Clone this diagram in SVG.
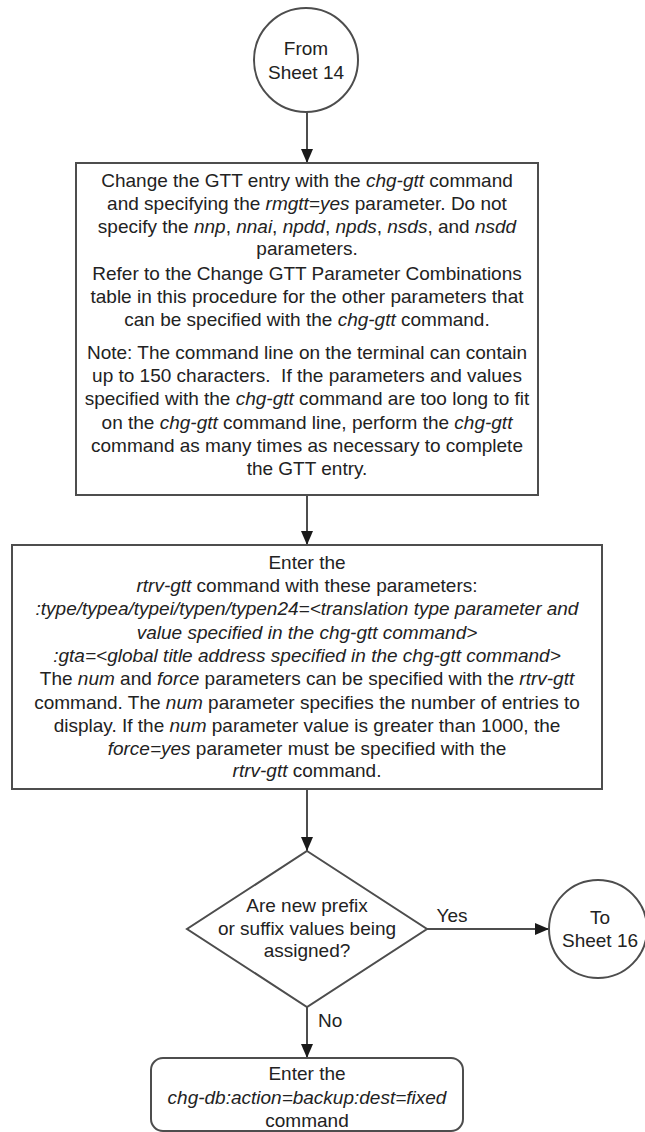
<svg xmlns="http://www.w3.org/2000/svg" width="645" height="1132" viewBox="0 0 645 1132">
<defs>
<style>
.shape{fill:#fff;stroke:#4d4d4d;stroke-width:2}
.conn{fill:none;stroke:#4d4d4d;stroke-width:2}
text{font-family:"Liberation Sans",Arial,sans-serif;font-size:19px;fill:#222;text-anchor:middle}
.i{font-style:italic}
</style>
<marker id="arr" markerWidth="14" markerHeight="12" refX="14" refY="6" orient="auto" markerUnits="userSpaceOnUse">
<path d="M0,0 L14,6 L0,12 Z" fill="#1a1a1a"/>
</marker>
</defs>
<rect width="645" height="1132" fill="#fff"/>

<g id="connectors">
<line class="conn" x1="307" y1="112" x2="307" y2="163" marker-end="url(#arr)"/>
<line class="conn" x1="307" y1="495" x2="307" y2="545" marker-end="url(#arr)"/>
<line class="conn" x1="307" y1="789" x2="307" y2="851" marker-end="url(#arr)"/>
<line class="conn" x1="427" y1="929" x2="549" y2="929" marker-end="url(#arr)"/>
<line class="conn" x1="307" y1="1007" x2="307" y2="1058" marker-end="url(#arr)"/>
<text x="452" y="922">Yes</text>
<text x="318" y="1027" style="text-anchor:start">No</text>
</g>

<g id="from-sheet-14">
<circle class="shape" cx="306" cy="60" r="52"/>
<text x="306" y="55">From</text>
<text x="306" y="79">Sheet 14</text>
</g>

<g id="change-gtt">
<rect class="shape" x="76" y="163" width="462" height="332"/>
<text x="307" y="187">Change the GTT entry with the <tspan class="i">chg-gtt</tspan> command</text>
<text x="307" y="210">and specifying the <tspan class="i">rmgtt=yes</tspan> parameter. Do not</text>
<text x="307" y="233">specify the <tspan class="i">nnp</tspan>, <tspan class="i">nnai</tspan>, <tspan class="i">npdd</tspan>, <tspan class="i">npds</tspan>, <tspan class="i">nsds</tspan>, and <tspan class="i">nsdd</tspan></text>
<text x="307" y="255">parameters.</text>
<text x="307" y="280">Refer to the Change GTT Parameter Combinations</text>
<text x="307" y="303">table in this procedure for the other parameters that</text>
<text x="307" y="326">can be specified with the <tspan class="i">chg-gtt</tspan> command.</text>
<text x="307" y="359">Note: The command line on the terminal can contain</text>
<text x="307" y="382">up to 150 characters.&#160; If the parameters and values</text>
<text x="307" y="405">specified with the <tspan class="i">chg-gtt</tspan> command are too long to fit</text>
<text x="307" y="429">on the <tspan class="i">chg-gtt</tspan> command line, perform the <tspan class="i">chg-gtt</tspan></text>
<text x="307" y="452">command as many times as necessary to complete</text>
<text x="307" y="475">the GTT entry.</text>
</g>

<g id="rtrv-gtt">
<rect class="shape" x="12" y="545" width="590" height="244"/>
<text x="307" y="569">Enter the</text>
<text x="307" y="592"><tspan class="i">rtrv-gtt</tspan> command with these parameters:</text>
<text x="307" y="615" class="i">:type/typea/typei/typen/typen24=&lt;translation type parameter and</text>
<text x="307" y="639" class="i">value specified in the chg-gtt command&gt;</text>
<text x="307" y="662" class="i">:gta=&lt;global title address specified in the chg-gtt command&gt;</text>
<text x="307" y="685">The <tspan class="i">num</tspan> and <tspan class="i">force</tspan> parameters can be specified with the <tspan class="i">rtrv-gtt</tspan></text>
<text x="307" y="709">command. The <tspan class="i">num</tspan> parameter specifies the number of entries to</text>
<text x="307" y="732">display. If the <tspan class="i">num</tspan> parameter value is greater than 1000, the</text>
<text x="307" y="755"><tspan class="i">force=yes</tspan> parameter must be specified with the</text>
<text x="307" y="777"><tspan class="i">rtrv-gtt</tspan> command.</text>
</g>

<g id="decision">
<polygon class="shape" points="307,851 427,929 307,1007 187,929"/>
<text x="307" y="912">Are new prefix</text>
<text x="307" y="935">or suffix values being</text>
<text x="307" y="957">assigned?</text>
</g>

<g id="to-sheet-16">
<circle class="shape" cx="598" cy="929" r="49"/>
<text x="600" y="924">To</text>
<text x="600" y="947">Sheet 16</text>
</g>

<g id="chg-db">
<rect class="shape" x="151" y="1058" width="312" height="73" rx="12" ry="12"/>
<text x="307" y="1080">Enter the</text>
<text x="307" y="1104" class="i">chg-db:action=backup:dest=fixed</text>
<text x="307" y="1127">command</text>
</g>
</svg>
